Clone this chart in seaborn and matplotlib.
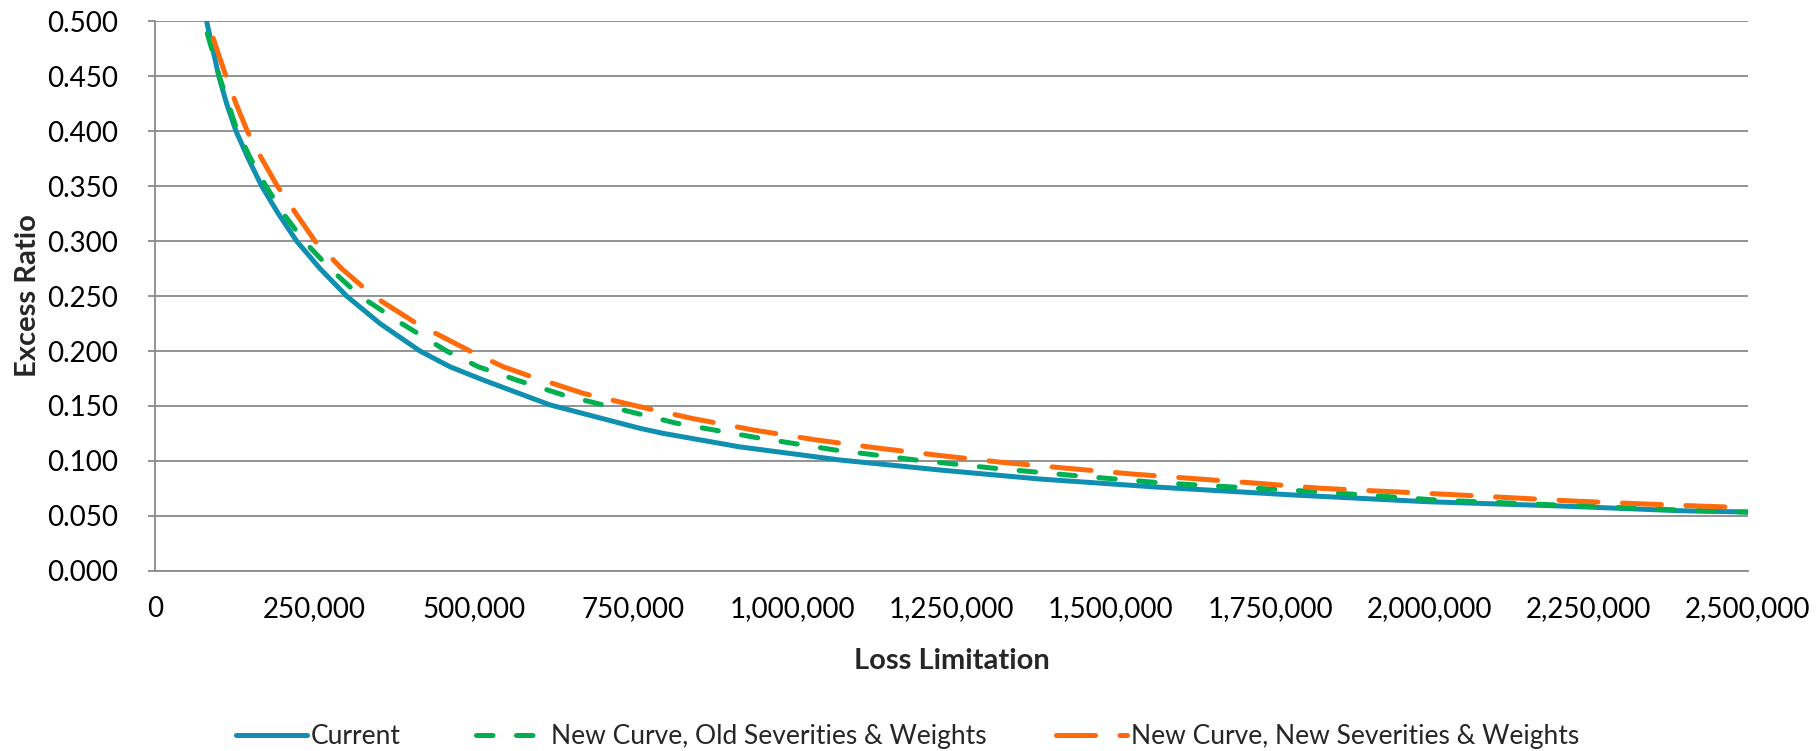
import matplotlib
matplotlib.use("Agg")
import matplotlib.pyplot as plt
import seaborn as sns
import numpy as np
from matplotlib.ticker import FuncFormatter

# ---- data ----
current_x = [80300, 89800, 99400, 111700, 126400, 145700, 166700, 192800, 221600,
             258300, 300100, 352500, 415300, 462400, 514700, 619400,
             760700, 797200, 917700, 1074700, 1231700, 1388700, 1577000, 1786300,
             1995700, 2204900, 2393300, 2500000]
current_y = [0.500, 0.475, 0.450, 0.425, 0.400, 0.375, 0.350, 0.325, 0.300,
             0.275, 0.250, 0.225, 0.200, 0.1857, 0.1736, 0.151,
             0.1297, 0.1251, 0.1128, 0.1009, 0.0918, 0.0836, 0.0761, 0.0691,
             0.0630, 0.0591, 0.0548, 0.0536]

old_sev_x = [81400, 88200, 100200, 114300, 128500, 149400, 173500, 200700, 233200,
             274000, 321000, 386500, 457100, 506800, 567000, 640300,
             765900, 818300, 941200, 1066800, 1192400, 1318000, 1443600, 1569200,
             1634500, 1823000, 2011400, 2199700, 2388200, 2500000]
old_sev_y = [0.4888, 0.475, 0.450, 0.425, 0.400, 0.375, 0.350, 0.325, 0.300,
             0.275, 0.250, 0.225, 0.200, 0.1857, 0.1736, 0.160,
             0.1418, 0.1343, 0.1215, 0.110, 0.101, 0.0933, 0.0867, 0.0806,
             0.0782, 0.0721, 0.0645, 0.060, 0.0555, 0.0535]

new_sev_x = [90800, 96000, 110700, 126400, 144200, 166700, 191300, 220600, 250400,
             292300, 342000, 410000, 493800, 546000, 582800, 671600,
             771100, 841800, 938600, 1038000, 1137400, 1234300, 1333700, 1433000,
             1532600, 1632000, 1731400, 1828700, 2027200, 2225800, 2325500,
             2424800, 2500000]
new_sev_y = [0.4843, 0.475, 0.450, 0.425, 0.400, 0.375, 0.350, 0.325, 0.300,
             0.275, 0.250, 0.225, 0.200, 0.1857, 0.1782, 0.1615,
             0.1479, 0.1388, 0.1282, 0.1191, 0.1115, 0.1048, 0.0985, 0.0933,
             0.0882, 0.0839, 0.0797, 0.0752, 0.0697, 0.0636, 0.0612,
             0.059, 0.0576]

series_labels = ["Current", "New Curve, Old Severities & Weights",
                 "New Curve, New Severities & Weights"]
x_ticks = [0, 250000, 500000, 750000, 1000000, 1250000, 1500000, 1750000,
           2000000, 2250000, 2500000]
y_ticks = [0.0, 0.05, 0.10, 0.15, 0.20, 0.25, 0.30, 0.35, 0.40, 0.45, 0.50]

# ---- style ----
sns.set_theme(style="white")
plt.rcParams["font.family"] = ["Lato", "DejaVu Sans"]

BLUE = "#1090B0"
GREEN = "#00B050"
ORANGE = "#FF6A0A"
GRID = "#8A8A8A"
FS = 20

fig = plt.figure(figsize=(18.2, 7.51), dpi=100)
ax = fig.add_axes([0.0854, 0.2397, 0.9604 - 0.0854, 0.972 - 0.2397])

LW = 3.6
sns.lineplot(x=current_x, y=current_y, ax=ax, color=BLUE, linewidth=LW,
             estimator=None, label=series_labels[0])
l1 = ax.lines[-1]
l1.set_solid_capstyle("round")
l1.set_solid_joinstyle("round")

sns.lineplot(x=old_sev_x, y=old_sev_y, ax=ax, color=GREEN, linewidth=LW,
             estimator=None, label=series_labels[1])
l2 = ax.lines[-1]
l2.set_dashes([3.3, 4.7])
l2.set_dash_capstyle("round")
l2.set_dash_joinstyle("round")

sns.lineplot(x=new_sev_x, y=new_sev_y, ax=ax, color=ORANGE, linewidth=LW,
             estimator=None, label=series_labels[2])
l3 = ax.lines[-1]
l3.set_dashes([7.8, 4.9])
l3.set_dash_capstyle("round")
l3.set_dash_joinstyle("round")

ax.get_legend().remove()

ax.set_xlim(0, 2500000)
ax.set_ylim(0, 0.5)
ax.set_xticks(x_ticks)
ax.set_yticks(y_ticks)
ax.xaxis.set_major_formatter(FuncFormatter(lambda v, p: f"{int(round(v)):,}"))
ax.yaxis.set_major_formatter(FuncFormatter(lambda v, p: f"{v:.3f}"))

ax.yaxis.grid(True, color=GRID, linewidth=1.3)
ax.xaxis.grid(False)
ax.set_axisbelow(True)
for s in ["top", "right"]:
    ax.spines[s].set_visible(False)
for s in ["left", "bottom"]:
    ax.spines[s].set_color(GRID)
    ax.spines[s].set_linewidth(1.3)

ax.tick_params(axis="y", which="both", left=True, length=5, width=1.3,
               color=GRID, labelsize=FS, pad=22, labelcolor="black")
ax.tick_params(axis="x", which="both", bottom=False, length=0,
               labelsize=FS, pad=18, labelcolor="black")

ax.set_xlabel("Loss Limitation", fontsize=21, fontweight="bold", labelpad=19)
ax.set_ylabel("Excess Ratio", fontsize=21, fontweight="bold")
ax.yaxis.set_label_coords(-0.072, 0.5)

# ---- legend: three entries placed along the bottom ----
handles = [l1, l2, l3]
xs = [0.1295, 0.2615, 0.580]
for h, lab, xpos in zip(handles, series_labels, xs):
    fig.legend([h], [lab], loc="center left", bbox_to_anchor=(xpos, 0.019),
               frameon=False, fontsize=19, handlelength=2.7,
               handletextpad=0.15, borderpad=0, borderaxespad=0)

fig.savefig("out.png", dpi=100)
